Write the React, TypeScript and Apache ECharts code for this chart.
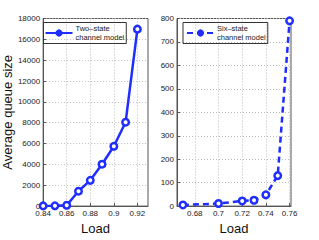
import React, { useEffect, useRef } from "react";
import * as echarts from "echarts";

const leftName = "Two–state\nchannel model";
const rightName = "Six–state\nchannel model";
const leftLoads = [0.84, 0.85, 0.86, 0.87, 0.88, 0.89, 0.9, 0.91, 0.92];
const leftQueue = [20, 30, 80, 1430, 2470, 4020, 5740, 8050, 16980];
const rightLoads = [0.67, 0.7, 0.72, 0.73, 0.74, 0.75, 0.76];
const rightQueue = [5, 11, 22, 25, 48, 130, 790];
const leftXTicks = [0.84, 0.86, 0.88, 0.9, 0.92];
const rightXTicks = [0.68, 0.7, 0.72, 0.74, 0.76];
const yTitle = "Average queue size";
const xTitle = "Load";

const BLUE = "#1f2eff";
const FONT = "Liberation Sans, Arial, Helvetica, sans-serif";
const AXIS = "#555";

const fmt = (v: number) => String(+Number(v).toFixed(2));

function xAxis(gridIndex: number, min: number, max: number, ticks: number[]) {
  return {
    type: "value",
    gridIndex,
    min,
    max,
    name: xTitle,
    nameLocation: "middle",
    nameGap: 13,
    nameTextStyle: { fontFamily: FONT, fontSize: 13, color: "#111" },
    axisLine: { show: true, onZero: false, lineStyle: { color: AXIS, width: 1 } },
    axisTick: { show: true, inside: true, length: 3, customValues: ticks, lineStyle: { color: AXIS } },
    axisLabel: {
      customValues: ticks,
      formatter: fmt,
      fontFamily: FONT,
      fontSize: 8,
      color: "#222",
      margin: 3,
    },
    splitLine: { show: true, lineStyle: { color: "#bbb", type: [1, 2], width: 1 } },
  };
}

function yAxis(gridIndex: number, max: number, interval: number, name: string) {
  return {
    type: "value",
    gridIndex,
    min: 0,
    max,
    interval,
    name,
    nameLocation: "middle",
    nameGap: 25,
    nameTextStyle: { fontFamily: FONT, fontSize: 13, color: "#111" },
    axisLine: { show: true, lineStyle: { color: AXIS, width: 1 } },
    axisTick: { show: true, inside: true, length: 3, lineStyle: { color: AXIS } },
    axisLabel: { fontFamily: FONT, fontSize: 8, color: "#222", margin: 3, formatter: (v: number) => String(v) },
    splitLine: { show: true, lineStyle: { color: "#bbb", type: [1, 2], width: 1 } },
  };
}

function legend(name: string, left: number, top: number, pad: number[]) {
  return {
    data: [name],
    left,
    top,
    orient: "vertical",
    borderColor: "#333",
    borderWidth: 1,
    padding: pad,
    itemWidth: 27,
    itemHeight: 9,
    itemGap: 0,
    textStyle: { fontFamily: FONT, fontSize: 7.5, lineHeight: 9, color: "#222", padding: [0, 0, 0, -2] },
    itemStyle: { color: BLUE, borderColor: BLUE, borderWidth: 0 },
  };
}

export default function App() {
  const ref = useRef<HTMLDivElement>(null);
  useEffect(() => {
    if (!ref.current) return;
    const chart = echarts.init(ref.current, undefined, { renderer: "svg" });
    chart.setOption({
      animation: false,
      backgroundColor: "#fff",
      grid: [
        { left: 42, top: 18.5, width: 106, height: 194, show: true, borderColor: AXIS, borderWidth: 1 },
        { left: 177, top: 18.5, width: 114, height: 194, show: true, borderColor: AXIS, borderWidth: 1 },
      ],
      xAxis: [xAxis(0, 0.84, 0.929, leftXTicks), xAxis(1, 0.665, 0.7612, rightXTicks)],
      yAxis: [yAxis(0, 18000, 2000, yTitle), yAxis(1, 800, 100, "")],
      legend: [legend(leftName, 43.5, 22.5, [1.5, 2, 1.5, 1]), legend(rightName, 183, 22.5, [1.5, 2, 1.5, 3])],
      series: [
        {
          type: "line",
          name: leftName,
          xAxisIndex: 0,
          yAxisIndex: 0,
          data: leftLoads.map((x, i) => [x, leftQueue[i]]),
          symbol: "circle",
          symbolSize: 6.5,
          color: BLUE,
          lineStyle: { color: BLUE, width: 2.5 },
          itemStyle: { color: "#fff", borderColor: BLUE, borderWidth: 2.5 },
        },
        {
          type: "line",
          name: rightName,
          xAxisIndex: 1,
          yAxisIndex: 1,
          data: rightLoads.map((x, i) => [x, rightQueue[i]]),
          symbol: "circle",
          symbolSize: 6.5,
          color: BLUE,
          lineStyle: { color: BLUE, width: 2.5, type: [6, 4] },
          itemStyle: { color: "#fff", borderColor: BLUE, borderWidth: 2.5 },
        },
      ],
    });
    return () => chart.dispose();
  }, []);
  return (
    <div
      ref={ref}
      style={{ position: "fixed", left: 0, top: 0, width: 319, height: 240 }}
    />
  );
}
